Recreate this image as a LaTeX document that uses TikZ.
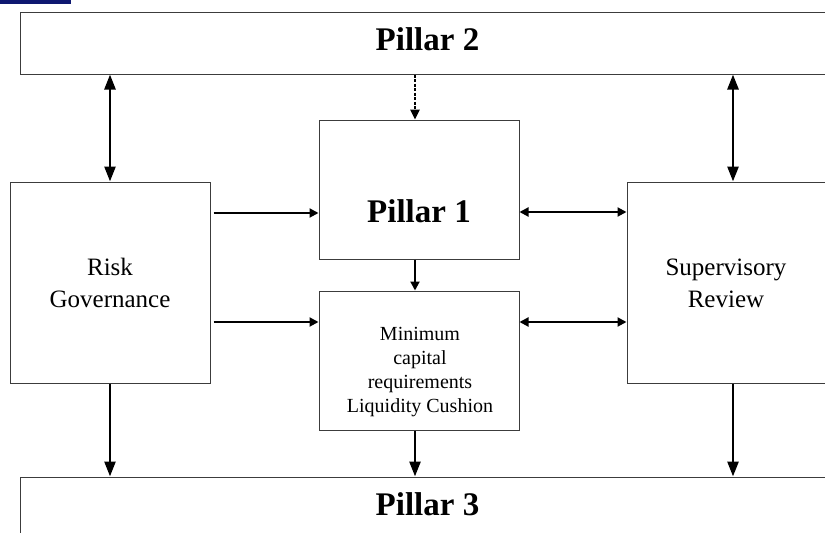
\documentclass[tikz,border=0pt]{standalone}
\usepackage{fontspec}
\setmainfont{Liberation Serif}
\usetikzlibrary{arrows.meta}
\definecolor{navybar}{RGB}{14,24,112}
\definecolor{boxline}{RGB}{60,60,60}
\begin{document}
\begin{tikzpicture}[x=1pt,y=-1pt,
  box/.style={draw=boxline, line width=1pt, inner sep=0pt, minimum width=#1},
  bigtext/.style={font=\fontsize{33}{38}\selectfont\bfseries, inner sep=0pt, anchor=base},
  midtext/.style={font=\fontsize{25}{32}\selectfont, inner sep=0pt, anchor=base},
  smalltext/.style={font=\fontsize{20}{24}\selectfont, inner sep=0pt, anchor=base},
  vone/.style={line width=2.6pt, -{Triangle[length=15pt,width=11pt]}},
  vtwo/.style={line width=2.6pt, {Triangle[length=15pt,width=11pt]}-{Triangle[length=15pt,width=11pt]}},
  hone/.style={line width=2pt, -{Triangle[length=9pt,width=9pt]}},
  htwo/.style={line width=2pt, {Triangle[length=9pt,width=9pt]}-{Triangle[length=9pt,width=9pt]}},
  dotarrow/.style={line width=2.4pt, dash pattern=on 3pt off 1.5pt, -{Triangle[length=10pt,width=9pt]}}
]
\useasboundingbox (0,0) rectangle (825,533);
\clip (0,0) rectangle (825,533);
\fill[navybar] (0,0) rectangle (71,4);

% boxes
\node[box=816pt, minimum height=62pt] (p2) at (428,43) {};
\node[box=816pt, minimum height=113pt] (p3) at (428,533.5) {};
\node[box=200pt, minimum height=201pt] (rg) at (110,282.5) {};
\node[box=200pt, minimum height=139pt] (p1) at (419,189.5) {};
\node[box=200pt, minimum height=139pt] (mc) at (419,360.5) {};
\node[box=200pt, minimum height=201pt] (sr) at (727,282.5) {};

% texts
\node[bigtext] (t2) at (427.5,50) {Pillar 2};
\node[bigtext] (t1) at (419,222) {Pillar 1};
\node[bigtext] (t3) at (427.5,515) {Pillar 3};
\node[midtext] (trg) at (110,275) {\setlength{\tabcolsep}{0pt}\begin{tabular}[t]{c}Risk\\Governance\end{tabular}};
\node[midtext] (tsr) at (726,275) {\setlength{\tabcolsep}{0pt}\begin{tabular}[t]{c}Supervisory\\Review\end{tabular}};
\node[smalltext] (tmc) at (420,340) {\setlength{\tabcolsep}{0pt}\begin{tabular}[t]{c}Minimum\\capital\\requirements\\Liquidity Cushion\end{tabular}};

% helper coordinates
\coordinate (a1) at ([yshift=-23.5pt]p1.west);
\coordinate (a2) at ([yshift=38.5pt]mc.west);
\coordinate (b1) at ([yshift=70.5pt]sr.west);
\coordinate (b2) at ([yshift=-39.5pt]sr.west);
\coordinate (sn) at ([xshift=6pt]sr.north);
\coordinate (ss) at ([xshift=6pt]sr.south);
\coordinate (pn) at ([xshift=-4pt]p1.north);
\coordinate (ps) at ([xshift=-4pt]p1.south);
\coordinate (mn) at ([xshift=-4pt]mc.north);
\coordinate (ms) at ([xshift=-4pt]mc.south);

% connectors
\draw[vtwo] (rg.north |- p2.south) -- (rg.north);
\draw[vtwo] (sn |- p2.south) -- (sn);
\draw[dotarrow] (pn |- p2.south) -- (pn);
\draw[hone] (ps) -- (mn);
\draw[hone, shorten <=3pt] (rg.east |- a1) -- (a1);
\draw[hone, shorten <=3pt] (rg.east |- a2) -- (a2);
\draw[htwo] (p1.east |- b1) -- (b1);
\draw[htwo] (mc.east |- b2) -- (b2);
\draw[vone] (rg.south) -- (rg.south |- p3.north);
\draw[vone] (ms) -- (ms |- p3.north);
\draw[vone] (ss) -- (ss |- p3.north);
\end{tikzpicture}
\end{document}
